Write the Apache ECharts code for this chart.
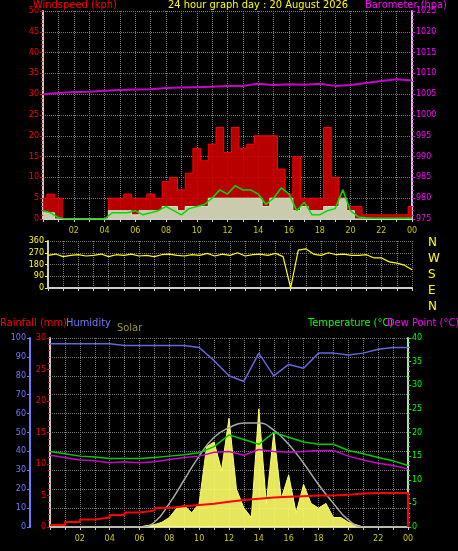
<!DOCTYPE html>
<html><head><meta charset="utf-8">
<script src="https://cdn.jsdelivr.net/npm/echarts@6/dist/echarts.min.js"></script>
<style>html,body{margin:0;background:#000}#c{width:458px;height:551px}</style>
</head><body><div id="c"></div>
<script>
const halfHours = Array.from({length:49},(_, i)=>i/2);
const hours = Array.from({length:25},(_, i)=>i);
const hourLabels = ['02','04','06','08','10','12','14','16','18','20','22','00'];
const compassLabels = ['N','W','S','E','N'];
const gust = [5,6,5,0,0,0,0,0,0,5,5,6,5,5,6,5,9,10,7,11,17,14,18,22,16,22,17,18,20,20,20,12,6,15,5,5,5,22,10,5,3,3,1,1,1,1,1,1,3];
const avgWind = [2,1.5,0.3,0,0,0,0,0,0,1.5,1.5,1.5,2,1,1.5,2,3,2,1,2.5,3,3.5,5,7,6,8,7,7,6,3.5,5,7.5,6,2,4,1,1,2,2.5,7,2,0.5,0.3,0.2,0.2,0.2,0.2,0.2,0.2];
const windLight = [1.5,1.5,0,0,0,0,0,0,0,2,2,2,1,2,2,2,3,3,2,3,3,3,5,5,5,5,5,5,5,3,5,5,5,2,3,2,2,3,3,5,2,0,0,0,0,0,0,0,0];
const baro = [1005,1005.3,1005.5,1005.6,1005.8,1006,1006.1,1006.2,1006.5,1006.6,1006.7,1006.8,1007,1007,1007.5,1007.2,1007.4,1007.3,1007.5,1007,1007.2,1007.7,1008.2,1008.6,1008.3];
const direction = [250,260,240,250,255,245,250,260,240,255,250,260,245,250,240,255,260,250,245,255,250,265,245,260,250,270,245,255,260,250,265,240,0,290,300,260,250,270,255,260,250,250,255,230,230,200,190,175,140];
const humidity = [97,97,97,97,97,96,96,96,96,96,95,88,80,77,92,80,86,84,92,92,91,92,94,95,95];
const temperature = [16,15.5,15,14.8,14.5,14.5,14.5,14.7,15,15.3,15.7,17,19.5,18.5,17.5,20,19,18,17.5,17.5,16.2,15.5,14.7,14,13];
const dewPoint = [15.2,14.7,14.2,14,13.6,13.8,13.6,13.8,14.3,14.7,15,15.8,16,15.2,16.4,16,15.8,16,16.2,16.2,15,14.2,13.5,13,12.3];
const solar = [0,0,0,0,0,0,0,0,0,0,0,0,0,0.3,0.5,1,2,4,4.5,3,5,17,18,12,23,8,4,2,25,5,20,6,11,3,9,5,4,5,2,2,1,0.5,0,0,0,0,0,0,0];
const solarMax = [0,0,0,0,0,0,0,1,5,10,15,19,21,22,22,20.5,17.5,13.5,9,5,1.5,0,0,0,0];
const rain = [0.3,0.8,1.2,1.5,1.9,2.3,2.6,3,3.3,3.5,3.7,4,4.3,4.5,4.7,4.8,4.9,5,5,5.1,5.3,5.4,5.4,5.4,5.4];

const pair=(xs,ys)=>ys.map((v,i)=>[xs[i],v]);
const grid = {type:'dotted',color:'#777',width:1};
const xAx = (gi,show)=>({type:'value',gridIndex:gi,min:0,max:24,interval:1,
  axisLine:{lineStyle:{color:'#ccc',width:2}},axisTick:{show:true,lineStyle:{color:'#ccc'},length:3},
  splitLine:{show:true,lineStyle:grid},
  axisLabel:{show:show,color:'#cccc00',fontSize:8,fontFamily:'DejaVu Sans',
    formatter:v=>(v>0&&v%2===0)?hourLabels[v/2-1]:''}});
const num = (c)=>({color:c,fontSize:8,fontFamily:'DejaVu Sans',margin:4,formatter:v=>String(v)});
const mt = (c)=>({show:true,splitNumber:5,length:2,lineStyle:{color:c}});
const font='11px "DejaVu Sans Condensed", sans-serif';
const opt = {
  backgroundColor:'#000',animation:false,
  grid:[{left:43,right:46,top:11,height:208},{left:48,right:46,top:241,height:47},{left:50,right:50,top:338,height:189}],
  xAxis:[xAx(0,true),xAx(1,false),xAx(2,true)],
  yAxis:[
    {type:'value',gridIndex:0,min:0,max:50,interval:5,axisLabel:num('#ff0000'),axisLine:{show:true,lineStyle:{color:'#ccc',width:2}},axisTick:{show:true,length:3,lineStyle:{color:'#f00'}},minorTick:mt('#f00'),splitLine:{lineStyle:grid}},
    {type:'value',gridIndex:0,min:975,max:1025,interval:5,position:'right',axisLabel:num('#ff00ff'),axisLine:{show:true,lineStyle:{color:'#ccc',width:2}},axisTick:{show:true,length:3,lineStyle:{color:'#f0f'}},minorTick:mt('#f0f'),splitLine:{show:false}},
    {type:'value',gridIndex:1,min:0,max:360,interval:90,axisLabel:num('#ffff00'),axisLine:{show:true,lineStyle:{color:'#ccc',width:2}},axisTick:{show:true,length:3,lineStyle:{color:'#ff0'}},splitLine:{lineStyle:grid}},
    {type:'value',gridIndex:2,min:0,max:30,interval:5,position:'left',axisLabel:num('#ff0000'),axisLine:{show:true,lineStyle:{color:'#ccc',width:2}},axisTick:{show:true,length:3,lineStyle:{color:'#f00'}},minorTick:mt('#f00'),splitLine:{show:false}},
    {type:'value',gridIndex:2,min:0,max:100,interval:10,position:'left',offset:20,axisLabel:num('#7777ff'),axisLine:{show:true,lineStyle:{color:'#7777ff',width:2}},axisTick:{show:true,length:3,lineStyle:{color:'#77f'}},splitLine:{lineStyle:grid}},
    {type:'value',gridIndex:2,min:0,max:40,interval:5,position:'right',axisLabel:num('#00ff00'),axisLine:{show:true,lineStyle:{color:'#ccc',width:2}},axisTick:{show:true,length:3,lineStyle:{color:'#0f0'}},minorTick:mt('#0f0'),splitLine:{show:false}}
  ],
  series:[
    {type:'line',xAxisIndex:0,yAxisIndex:0,step:'middle',data:pair(halfHours,gust),symbol:'none',lineStyle:{color:'#ff0000',width:1},areaStyle:{color:'#cc0000',opacity:0.9}},
    {type:'line',xAxisIndex:0,yAxisIndex:0,step:'middle',data:pair(halfHours,windLight),symbol:'none',lineStyle:{color:'#cceecc',width:1},areaStyle:{color:'#cceecc',opacity:0.85}},
    {type:'line',xAxisIndex:0,yAxisIndex:0,data:pair(halfHours,avgWind),symbol:'none',lineStyle:{color:'#00dd00',width:1.5}},
    {type:'line',xAxisIndex:0,yAxisIndex:1,data:pair(hours,baro),symbol:'none',lineStyle:{color:'#cc00cc',width:2}},
    {type:'line',xAxisIndex:1,yAxisIndex:2,data:pair(halfHours,direction),symbol:'none',lineStyle:{color:'#ffff00',width:1.2}},
    {type:'line',xAxisIndex:2,yAxisIndex:5,data:pair(halfHours,solar),symbol:'none',lineStyle:{color:'#ffff66',width:1},areaStyle:{color:'#ffff66',opacity:0.9}},
    {type:'line',xAxisIndex:2,yAxisIndex:5,data:pair(hours,solarMax),smooth:true,symbol:'none',lineStyle:{color:'#aaaaaa',width:1.5}},
    {type:'line',xAxisIndex:2,yAxisIndex:4,data:pair(hours,humidity),symbol:'none',lineStyle:{color:'#6666dd',width:1.5}},
    {type:'line',xAxisIndex:2,yAxisIndex:5,data:pair(hours,temperature),symbol:'none',lineStyle:{color:'#00cc00',width:1.5}},
    {type:'line',xAxisIndex:2,yAxisIndex:5,data:pair(hours,dewPoint),symbol:'none',lineStyle:{color:'#cc00cc',width:1.5}},
    {type:'line',xAxisIndex:2,yAxisIndex:3,step:'end',data:pair(hours,rain).concat([[24,0]]),symbol:'none',lineStyle:{color:'#ff0000',width:2}}
  ],
  graphic:[
    {type:'text',left:33,top:0,style:{text:'Windspeed (kph)',fill:'#ff0000',font}},
    {type:'text',left:168,top:0,style:{text:'24 hour graph day : 20 August 2026',fill:'#ffff00',font}},
    {type:'text',left:365,top:0,style:{text:'Barometer (hpa)',fill:'#ff00ff',font}},
    {type:'text',left:0,top:318,style:{text:'Rainfall (mm)',fill:'#ff0000',font}},
    {type:'text',left:66,top:318,style:{text:'Humidity',fill:'#7777ff',font}},
    {type:'text',left:117,top:323,style:{text:'Solar',fill:'#999933',font}},
    {type:'text',left:308,top:318,style:{text:'Temperature (°C)',fill:'#00ff00',font}},
    {type:'text',left:387,top:318,style:{text:'Dew Point (°C)',fill:'#ff00ff',font}}
  ].concat(compassLabels.map((t,i)=>({type:'text',left:428,top:237+i*16,style:{text:t,fill:'#ffff00',font:'12px "DejaVu Sans", sans-serif'}})))
};
echarts.init(document.getElementById('c')).setOption(opt);
</script></body></html>
